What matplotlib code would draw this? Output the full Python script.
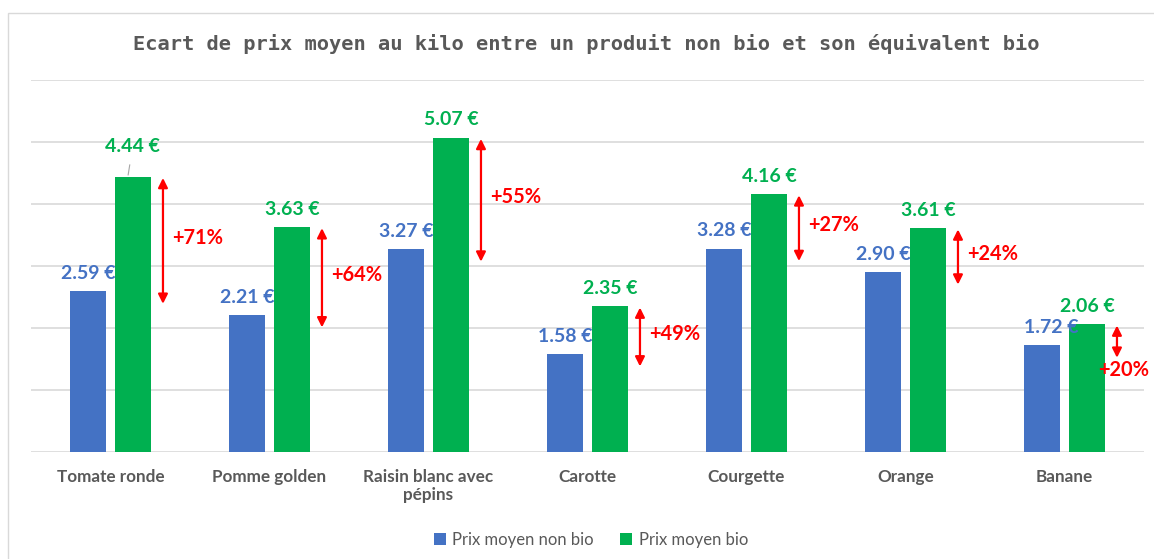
import matplotlib.pyplot as plt
import numpy as np
from matplotlib.patches import Rectangle

# Data
produits = ['Tomate ronde', 'Pomme golden', 'Raisin blanc avec\npépins', 'Carotte',
            'Courgette', 'Orange', 'Banane']
prix_non_bio = [2.59, 2.21, 3.27, 1.58, 3.28, 2.90, 1.72]
prix_bio = [4.44, 3.63, 5.07, 2.35, 4.16, 3.61, 2.06]

BLUE = '#4472C4'
GREEN = '#00B050'
RED = '#FF0000'
GREY = '#595959'

fig = plt.figure(figsize=(11.54, 5.59), dpi=100)
ax = fig.add_axes([31 / 1154, 107 / 559, 1113 / 1154, 372 / 559])

# chart border (light grey frame)
fig.patches.append(Rectangle((8 / 1154, -0.1), 1.2, (559 - 13) / 559 + 0.1,
                             transform=fig.transFigure, fill=False,
                             edgecolor='#D9D9D9', linewidth=1))

x = np.arange(len(produits))
width = 0.225
off = 0.141

ax.bar(x - off, prix_non_bio, width, color=BLUE, label='Prix moyen non bio', zorder=3)
ax.bar(x + off, prix_bio, width, color=GREEN, label='Prix moyen bio', zorder=3)

# value labels
for i, (nb, b) in enumerate(zip(prix_non_bio, prix_bio)):
    dx = 0.06 if i == 6 else 0
    ax.text(i - off + dx, nb + 0.15, f'{nb:.2f} €', ha='center', va='bottom',
            fontsize=14, fontweight='bold', color=BLUE, family='Lato')
    lift = 0.2 if i == 0 else 0.0
    ax.text(i + off, b + 0.15 + lift, f'{b:.2f} €', ha='center', va='bottom',
            fontsize=14, fontweight='bold', color=GREEN, family='Lato')
    if i == 0:
        ax.plot([i + off - 0.03, i + off - 0.02], [b + 0.03, b + 0.19],
                color='#A6A6A6', linewidth=0.8, zorder=4)

# red arrows with percentage increase
for i, (nb, b) in enumerate(zip(prix_non_bio, prix_bio)):
    pct = round((b / nb - 1) * 100)
    xa = i + 0.33
    top = b - 0.02
    bottom = nb - 0.2
    ax.annotate('', xy=(xa, top), xytext=(xa, bottom),
                arrowprops=dict(arrowstyle='<|-|>', color=RED, lw=1.6,
                                mutation_scale=14, shrinkA=0, shrinkB=0))
    if i == 6:
        ax.text(xa - 0.12, bottom - 0.2, f'+{pct}%', ha='left', va='center',
                fontsize=14.4, fontweight='bold', color=RED, family='Lato', zorder=5)
    else:
        ax.text(xa + 0.06, (top + bottom) / 2 + 0.05, f'+{pct}%', ha='left', va='center',
                fontsize=14.4, fontweight='bold', color=RED, family='Lato')

ax.set_xlim(-0.5, len(produits) - 0.5)
ax.set_ylim(0, 6)
ax.set_yticks(np.arange(0, 7, 1))
ax.set_yticklabels([])
ax.tick_params(axis='y', length=0)
ax.tick_params(axis='x', length=0, pad=12)
ax.set_xticks(x)
ax.set_xticklabels(produits, fontsize=12.3, fontweight='bold', color=GREY, family='Lato')
ax.grid(axis='y', color='#D9D9D9', linewidth=1.2, zorder=0)
for s in ax.spines.values():
    s.set_visible(False)

fig.text(586 / 1154, 1 - 44 / 559, 'Ecart de prix moyen au kilo entre un produit non bio et son équivalent bio',
         ha='center', va='center', fontsize=14.7, fontweight='bold', color=GREY,
         family='DejaVu Sans Mono')

fig.legend(loc='center', bbox_to_anchor=(591 / 1154, 1 - 540 / 559), ncol=2, frameon=False,
           prop={'family': 'Lato', 'size': 12}, labelcolor=GREY, handlelength=0.7,
           handleheight=0.7, handletextpad=0.4, columnspacing=1.6)

plt.savefig('out.png', dpi=100)
plt.close()
